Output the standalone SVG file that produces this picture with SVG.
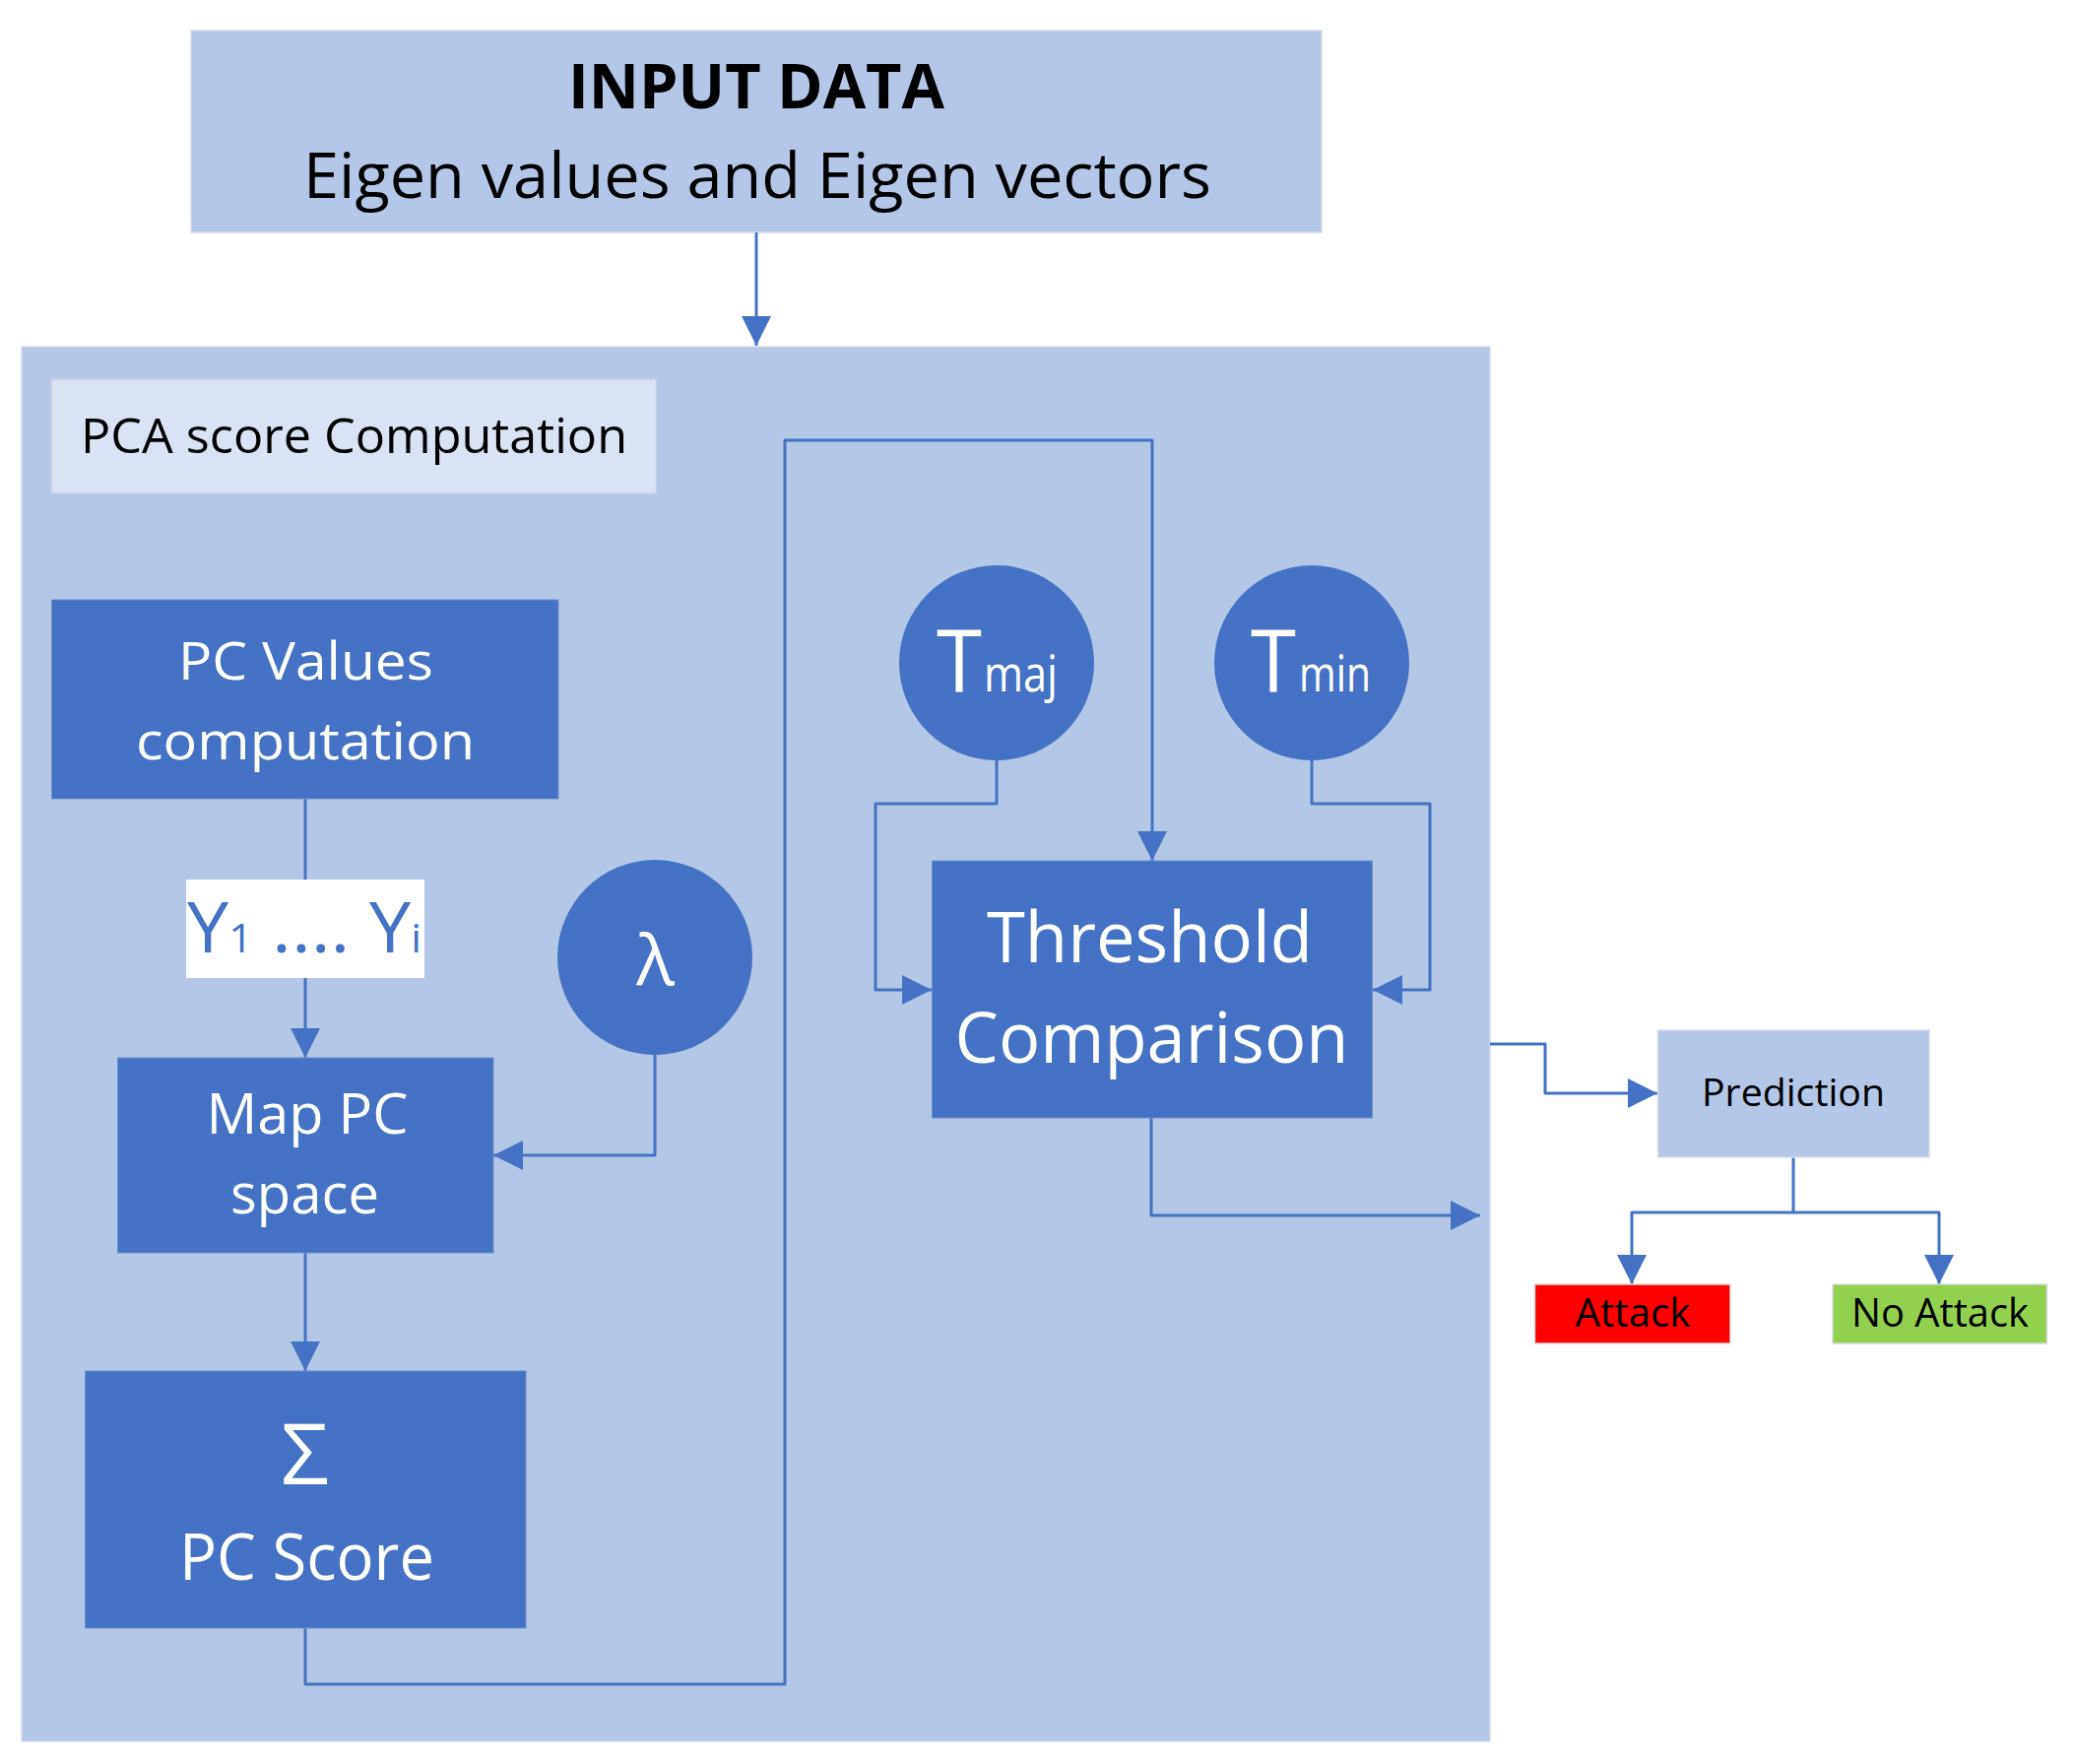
<svg xmlns="http://www.w3.org/2000/svg" width="2105" height="1791" viewBox="0 0 2105 1791">
<style>
text{font-family:"Open Sans","Noto Sans","Liberation Sans",sans-serif}
.light{fill:#B4C7E7;stroke:#D5DCE8;stroke-width:1.5}
.dark{fill:#4472C4;stroke:#6C8FCF;stroke-width:1}
.conn{fill:none;stroke:#4472C4;stroke-width:3;stroke-linejoin:round}
.w{fill:#FFFFFF}
.k{fill:#000000}
</style>
<defs>
<marker id="ah" markerUnits="userSpaceOnUse" markerWidth="30" markerHeight="30" viewBox="0 0 28 28" refX="28" refY="14" orient="auto">
<path d="M0,0 L28,14 L0,28 z" fill="#4472C4"/>
</marker>
</defs>
<rect width="2105" height="1791" fill="#FFFFFF"/>
<g id="input">
<rect class="light" x="194" y="31" width="1148" height="205"/>
<text class="k" x="768" y="110" font-size="63" font-weight="bold" text-anchor="middle" textLength="382" lengthAdjust="spacingAndGlyphs">INPUT DATA</text>
<text class="k" x="769" y="201" font-size="64" text-anchor="middle" textLength="922" lengthAdjust="spacingAndGlyphs">Eigen values and Eigen vectors</text>
</g>
<g id="container">
<rect class="light" x="22" y="352" width="1491" height="1416"/>
</g>
<g id="pca-label">
<rect x="52.5" y="385.5" width="613.5" height="115" fill="#DAE3F3" stroke="#D0D6E0" stroke-width="1.5"/>
<text class="k" x="82" y="460" font-size="50" textLength="555" lengthAdjust="spacingAndGlyphs">PCA score Computation</text>
</g>
<g id="connectors">
<path class="conn" d="M768,236 V351" marker-end="url(#ah)"/>
<path class="conn" d="M310,811 V1074" marker-end="url(#ah)"/>
<path class="conn" d="M665,1070 V1173 H501" marker-end="url(#ah)"/>
<path class="conn" d="M310,1272 V1392" marker-end="url(#ah)"/>
<path class="conn" d="M310,1653 V1710 H797 V447 H1170 V874" marker-end="url(#ah)"/>
<path class="conn" d="M1012,772 V816 H889 V1005 H946" marker-end="url(#ah)"/>
<path class="conn" d="M1332,772 V816 H1452 V1005 H1394" marker-end="url(#ah)"/>
<path class="conn" d="M1169,1135 V1234 H1503" marker-end="url(#ah)"/>
<path class="conn" d="M1513,1060 H1569 V1110 H1683" marker-end="url(#ah)"/>
<path class="conn" d="M1821,1175 V1231 H1657 V1304" marker-end="url(#ah)"/>
<path class="conn" d="M1821,1231 H1969 V1304" marker-end="url(#ah)"/>
</g>
<g id="pc-values">
<rect class="dark" x="52.5" y="609" width="514.5" height="202"/>
<text class="w" x="310.5" y="690" font-size="53" text-anchor="middle" textLength="259" lengthAdjust="spacingAndGlyphs">PC Values</text>
<text class="w" x="310" y="771" font-size="53" text-anchor="middle" textLength="344" lengthAdjust="spacingAndGlyphs">computation</text>
</g>
<g id="y-label">
<rect x="189" y="893" width="242" height="100" fill="#FFFFFF"/>
<text x="190" y="967" font-size="71" fill="#4472C4" textLength="238" lengthAdjust="spacingAndGlyphs">Y<tspan font-size="40">1</tspan> .... Y<tspan font-size="40">i</tspan></text>
</g>
<g id="lambda">
<circle cx="665" cy="972" r="99" fill="#4472C4"/>
<text class="w" x="665.5" y="1000" font-size="72" text-anchor="middle">λ</text>
</g>
<g id="map-pc">
<rect class="dark" x="119.5" y="1074" width="381.5" height="198"/>
<text class="w" x="312" y="1151" font-size="56" text-anchor="middle" textLength="205" lengthAdjust="spacingAndGlyphs">Map PC</text>
<text class="w" x="309.5" y="1232" font-size="56" text-anchor="middle" textLength="151" lengthAdjust="spacingAndGlyphs">space</text>
</g>
<g id="pc-score">
<rect class="dark" x="86.5" y="1392" width="447.5" height="261"/>
<text class="w" x="309.5" y="1507" font-size="86" text-anchor="middle">Σ</text>
<text class="w" x="311.5" y="1604" font-size="65" text-anchor="middle" textLength="259" lengthAdjust="spacingAndGlyphs">PC Score</text>
</g>
<g id="t-maj">
<circle cx="1012" cy="673" r="99" fill="#4472C4"/>
<text class="w" x="951" y="702" font-size="87" textLength="46" lengthAdjust="spacingAndGlyphs">T</text>
<text class="w" x="999" y="702" font-size="52" textLength="75" lengthAdjust="spacingAndGlyphs">maj</text>
</g>
<g id="t-min">
<circle cx="1332" cy="673" r="99" fill="#4472C4"/>
<text class="w" x="1270" y="702" font-size="87" textLength="46" lengthAdjust="spacingAndGlyphs">T</text>
<text class="w" x="1319" y="702" font-size="52" textLength="73" lengthAdjust="spacingAndGlyphs">min</text>
</g>
<g id="threshold">
<rect class="dark" x="946.5" y="874" width="447" height="261"/>
<text class="w" x="1167.5" y="977" font-size="71" text-anchor="middle" textLength="331" lengthAdjust="spacingAndGlyphs">Threshold</text>
<text class="w" x="1169.5" y="1079" font-size="71" text-anchor="middle" textLength="400" lengthAdjust="spacingAndGlyphs">Comparison</text>
</g>
<g id="prediction">
<rect class="light" x="1683.5" y="1046" width="275.5" height="129"/>
<text class="k" x="1821" y="1123" font-size="38" text-anchor="middle" textLength="186" lengthAdjust="spacingAndGlyphs">Prediction</text>
</g>
<g id="attack">
<rect x="1558.5" y="1304" width="198.5" height="60" fill="#FF0000" stroke="#D9D9D9" stroke-width="1.5"/>
<text class="k" x="1658" y="1347" font-size="41" text-anchor="middle" textLength="117" lengthAdjust="spacingAndGlyphs">Attack</text>
</g>
<g id="no-attack">
<rect x="1861" y="1304" width="217.5" height="60" fill="#92D050" stroke="#D9D9D9" stroke-width="1.5"/>
<text class="k" x="1970" y="1347" font-size="41" text-anchor="middle" textLength="180" lengthAdjust="spacingAndGlyphs">No Attack</text>
</g>
</svg>
